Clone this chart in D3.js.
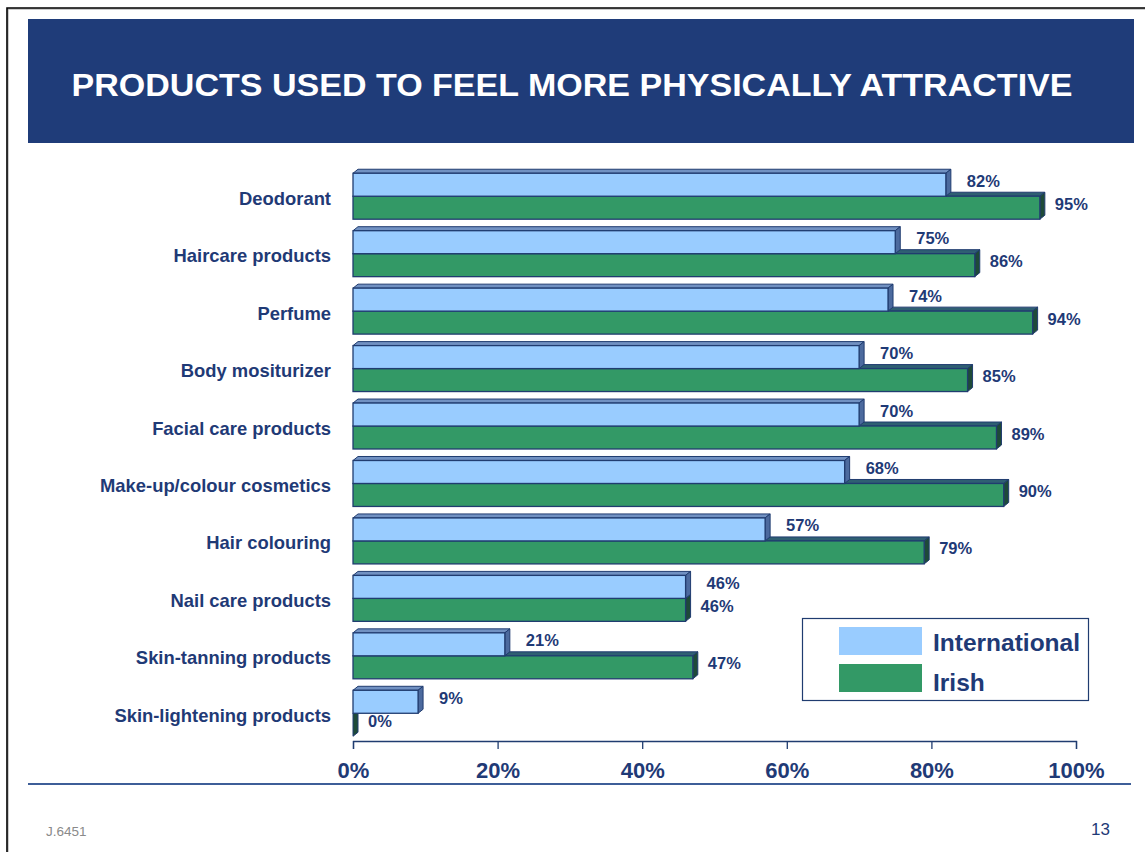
<!DOCTYPE html>
<html>
<head>
<meta charset="utf-8">
<script src="https://cdn.jsdelivr.net/npm/d3@7/dist/d3.min.js"></script>
<style>
  html, body { margin: 0; padding: 0; background: #ffffff; }
  svg { display: block; font-family: "Liberation Sans", Arial, Helvetica, sans-serif; }
</style>
</head>
<body>
<svg id="chart" width="1145" height="852"></svg>
<script>
// Product categories, top to bottom
const categories = [
  "Deodorant",
  "Haircare products",
  "Perfume",
  "Body mositurizer",
  "Facial care products",
  "Make-up/colour cosmetics",
  "Hair colouring",
  "Nail care products",
  "Skin-tanning products",
  "Skin-lightening products"
];
// Share of respondents using each product (%)
const international = [82, 75, 74, 70, 70, 68, 57, 46, 21, 9];
const irish         = [95, 86, 94, 85, 89, 90, 79, 46, 47, 0];
const seriesNames = ["International", "Irish"];
const xTicks = [0, 20, 40, 60, 80, 100];

const title = "PRODUCTS USED TO FEEL MORE PHYSICALLY ATTRACTIVE";
const footLeft = "J.6451";
const footRight = "13";

const navy = "#1F3A76";
const outline = "#203C70";
const colors = {
  International: { front: "#99CCFF", top: "#7191C2", side: "#4C6A9E" },
  Irish:         { front: "#339966", top: "#2F5F72", side: "#1E4A38" }
};

const svg = d3.select("#chart");

// Slide frame
svg.append("path")
  .attr("d", "M7,860 L7,8 L1150,8")
  .attr("fill", "none").attr("stroke", "#9a9a9a").attr("stroke-width", 1)
  .attr("transform", "translate(1,1)");
svg.append("path")
  .attr("d", "M7,860 L7,8 L1150,8")
  .attr("fill", "none").attr("stroke", "#000").attr("stroke-width", 1.6);

// Title band
svg.append("rect")
  .attr("x", 28).attr("y", 19).attr("width", 1106).attr("height", 124)
  .attr("fill", "#1F3C79");
svg.append("text")
  .attr("x", 572).attr("y", 96)
  .attr("text-anchor", "middle")
  .attr("fill", "#ffffff")
  .attr("font-weight", "bold")
  .attr("font-size", 31.5)
  .attr("textLength", 1001)
  .attr("lengthAdjust", "spacingAndGlyphs")
  .text(title);

// Scales
const x = d3.scaleLinear().domain([0, 100]).range([353, 1076]);
const y = d3.scaleBand().domain(categories).range([167.5, 742])
  .paddingInner(0.2).paddingOuter(0.1);
const ySub = d3.scaleBand().domain(seriesNames).range([0, y.bandwidth()]);

const depthX = 5, depthY = 4;

const rows = categories.map((c, i) => ({
  category: c,
  values: [
    { series: "International", value: international[i] },
    { series: "Irish", value: irish[i] }
  ]
}));

const plot = svg.append("g");

// Draws one extruded bar: front, top and side faces
function drawBar(g, d, top) {
  const c = colors[d.series];
  const x0 = x(0), x1 = x(d.value);
  const h = ySub.bandwidth();
  const y0 = top, y1 = top + h;
  // top face
  g.append("path")
    .attr("d", `M${x0},${y0} L${x0 + depthX},${y0 - depthY} L${x1 + depthX},${y0 - depthY} L${x1},${y0} Z`)
    .attr("fill", c.top).attr("stroke", outline).attr("stroke-width", 1).attr("stroke-linejoin", "round");
  // side face
  g.append("path")
    .attr("d", `M${x1},${y0} L${x1 + depthX},${y0 - depthY} L${x1 + depthX},${y1 - depthY} L${x1},${y1} Z`)
    .attr("fill", c.side).attr("stroke", outline).attr("stroke-width", 1).attr("stroke-linejoin", "round");
  // front face
  g.append("rect")
    .attr("x", x0).attr("y", y0)
    .attr("width", Math.max(0, x1 - x0)).attr("height", h)
    .attr("fill", c.front).attr("stroke", outline).attr("stroke-width", 1.3);
}

rows.forEach(row => {
  const g = plot.append("g");
  const base = y(row.category);
  // lower bar first so the upper bar's front face covers its top face
  [...row.values].reverse().forEach(d => drawBar(g, d, base + ySub(d.series)));
});

// Value labels
rows.forEach(row => {
  row.values.forEach(d => {
    const cy = y(row.category) + ySub(d.series) + ySub.bandwidth() / 2;
    const off = d.series === "International" ? 16 : 10;
    plot.append("text")
      .attr("x", x(d.value) + depthX + off)
      .attr("y", cy + 2)
      .attr("fill", navy)
      .attr("font-weight", "bold")
      .attr("font-size", 16.5)
      .text(d.value + "%");
  });
});

// Category labels
svg.append("g").selectAll("text")
  .data(categories)
  .join("text")
  .attr("x", 331)
  .attr("y", d => y(d) + y.bandwidth() / 2 + 8.5)
  .attr("text-anchor", "end")
  .attr("fill", navy)
  .attr("font-weight", "bold")
  .attr("font-size", 18.4)
  .text(d => d);

// X axis
const xAxis = svg.append("g")
  .attr("transform", "translate(0,741)")
  .call(d3.axisBottom(x).tickValues(xTicks).tickSize(8).tickPadding(12).tickFormat(d => d + "%"));
xAxis.select(".domain").attr("stroke", outline).attr("stroke-width", 1.3);
xAxis.selectAll(".tick line").attr("stroke", outline).attr("stroke-width", 1.3);
xAxis.selectAll(".tick text")
  .attr("fill", navy)
  .attr("font-weight", "bold")
  .attr("font-size", 22)
  .attr("dy", "0.75em")
  .attr("font-family", "'Liberation Sans', Arial, sans-serif");

// Legend
const legend = svg.append("g");
legend.append("rect")
  .attr("x", 802.5).attr("y", 618.5).attr("width", 286).attr("height", 82)
  .attr("fill", "#fff").attr("stroke", outline).attr("stroke-width", 1.2);
seriesNames.forEach((s, i) => {
  const top = i === 0 ? 627 : 664;
  legend.append("rect")
    .attr("x", 839).attr("y", top).attr("width", 83).attr("height", 28)
    .attr("fill", colors[s].front);
  legend.append("text")
    .attr("x", 933).attr("y", i === 0 ? top + 24 : top + 27)
    .attr("fill", navy)
    .attr("font-weight", "bold")
    .attr("font-size", 24.5)
    .text(s);
});

// Footer rule and page text
svg.append("line")
  .attr("x1", 28).attr("x2", 1131).attr("y1", 784).attr("y2", 784)
  .attr("stroke", "#3E5E98").attr("stroke-width", 2);
svg.append("text")
  .attr("x", 46).attr("y", 836)
  .attr("fill", "#8a8a8a")
  .attr("font-size", 13.5)
  .text(footLeft);
svg.append("text")
  .attr("x", 1110).attr("y", 835)
  .attr("text-anchor", "end")
  .attr("fill", navy)
  .attr("font-size", 17)
  .text(footRight);
</script>
</body>
</html>
